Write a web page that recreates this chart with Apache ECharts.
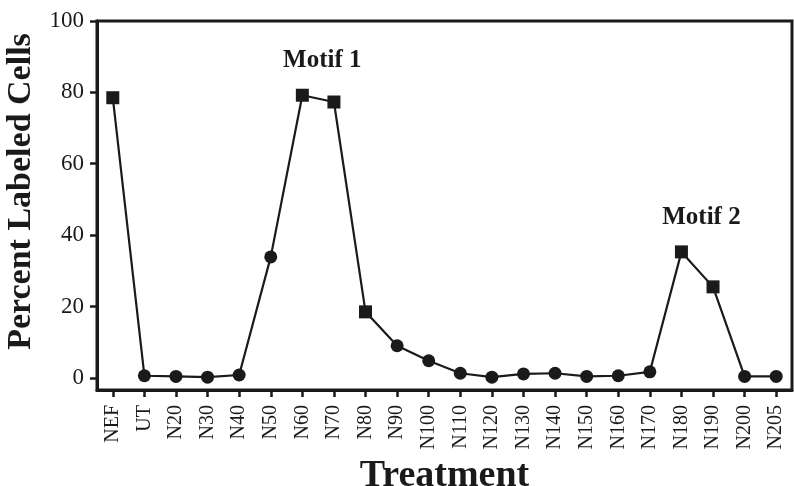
<!DOCTYPE html>
<html>
<head>
<meta charset="utf-8">
<script src="https://cdn.jsdelivr.net/npm/echarts@6/dist/echarts.min.js"></script>
<style>
html,body{margin:0;padding:0;background:#fff;}
#chart{width:794px;height:486px;}
</style>
</head>
<body>
<div id="chart"></div>
<script>
const categories = ['NEF','UT','N20','N30','N40','N50','N60','N70','N80','N90','N100','N110','N120','N130','N140','N150','N160','N170','N180','N190','N200','N205'];
const percentLabeled = [78.5, 0.6, 0.4, 0.2, 0.8, 33.9, 79.2, 77.3, 18.5, 9.0, 4.8, 1.3, 0.2, 1.1, 1.3, 0.4, 0.6, 1.7, 35.3, 25.5, 0.4, 0.4];
const yTickValues = [0, 20, 40, 60, 80, 100];
const motifNames = ['Motif 1', 'Motif 2'];
const motifAnchor = ['N60', 'N180'];
const motifLevel = [89, 45];

const squareMarked = new Set(['NEF','N60','N70','N80','N180','N190']);
const serif = 'Liberation Serif';
const ink = '#1a1a1a';

const chart = echarts.init(document.getElementById('chart'));
chart.setOption({
  animation: false,
  backgroundColor: '#fff',
  grid: {
    left: 97, top: 21, right: 2, bottom: 96,
    show: true, borderColor: ink, borderWidth: 3, backgroundColor: 'transparent',
    outerBoundsMode: 'none'
  },
  xAxis: {
    type: 'category',
    data: categories,
    boundaryGap: true,
    name: 'Treatment',
    nameLocation: 'middle',
    nameGap: 62,
    nameTextStyle: { fontFamily: serif, fontWeight: 'bold', fontSize: 38, color: ink },
    axisLine: { show: true, onZero: false, lineStyle: { color: ink, width: 3 } },
    axisTick: { show: true, alignWithLabel: true, length: 7, lineStyle: { color: ink, width: 2.5 } },
    axisLabel: { rotate: 90, interval: 0, margin: 15, fontFamily: serif, fontSize: 20, color: ink },
    splitLine: { show: false }
  },
  yAxis: {
    type: 'value',
    min: -3.4,
    max: 100,
    name: 'Percent Labeled Cells',
    nameLocation: 'middle',
    nameGap: 58,
    nameTextStyle: { fontFamily: serif, fontWeight: 'bold', fontSize: 34, color: ink, padding: [0, 0, 0, 28] },
    axisLine: { show: true, onZero: false, lineStyle: { color: ink, width: 3 } },
    axisTick: { show: true, length: 7, customValues: yTickValues, lineStyle: { color: ink, width: 2.5 } },
    axisLabel: { customValues: yTickValues, margin: 13, fontFamily: serif, fontSize: 23, color: ink },
    splitLine: { show: false }
  },
  series: [{
    type: 'line',
    data: percentLabeled.map((v, i) => ({ value: v, symbol: squareMarked.has(categories[i]) ? 'rect' : 'circle' })),
    symbolSize: 13,
    showAllSymbol: true,
    lineStyle: { color: ink, width: 2.2 },
    itemStyle: { color: ink, borderWidth: 0 },
    markPoint: {
      symbol: 'circle',
      symbolSize: 1,
      itemStyle: { color: 'transparent' },
      label: { show: true, position: 'inside', fontFamily: serif, fontWeight: 'bold', fontSize: 25, color: ink, formatter: p => p.name },
      data: motifNames.map((n, i) => ({ name: n, coord: [motifAnchor[i], motifLevel[i]], label: { offset: [20, 0] } }))
    }
  }]
});
</script>
</body>
</html>
